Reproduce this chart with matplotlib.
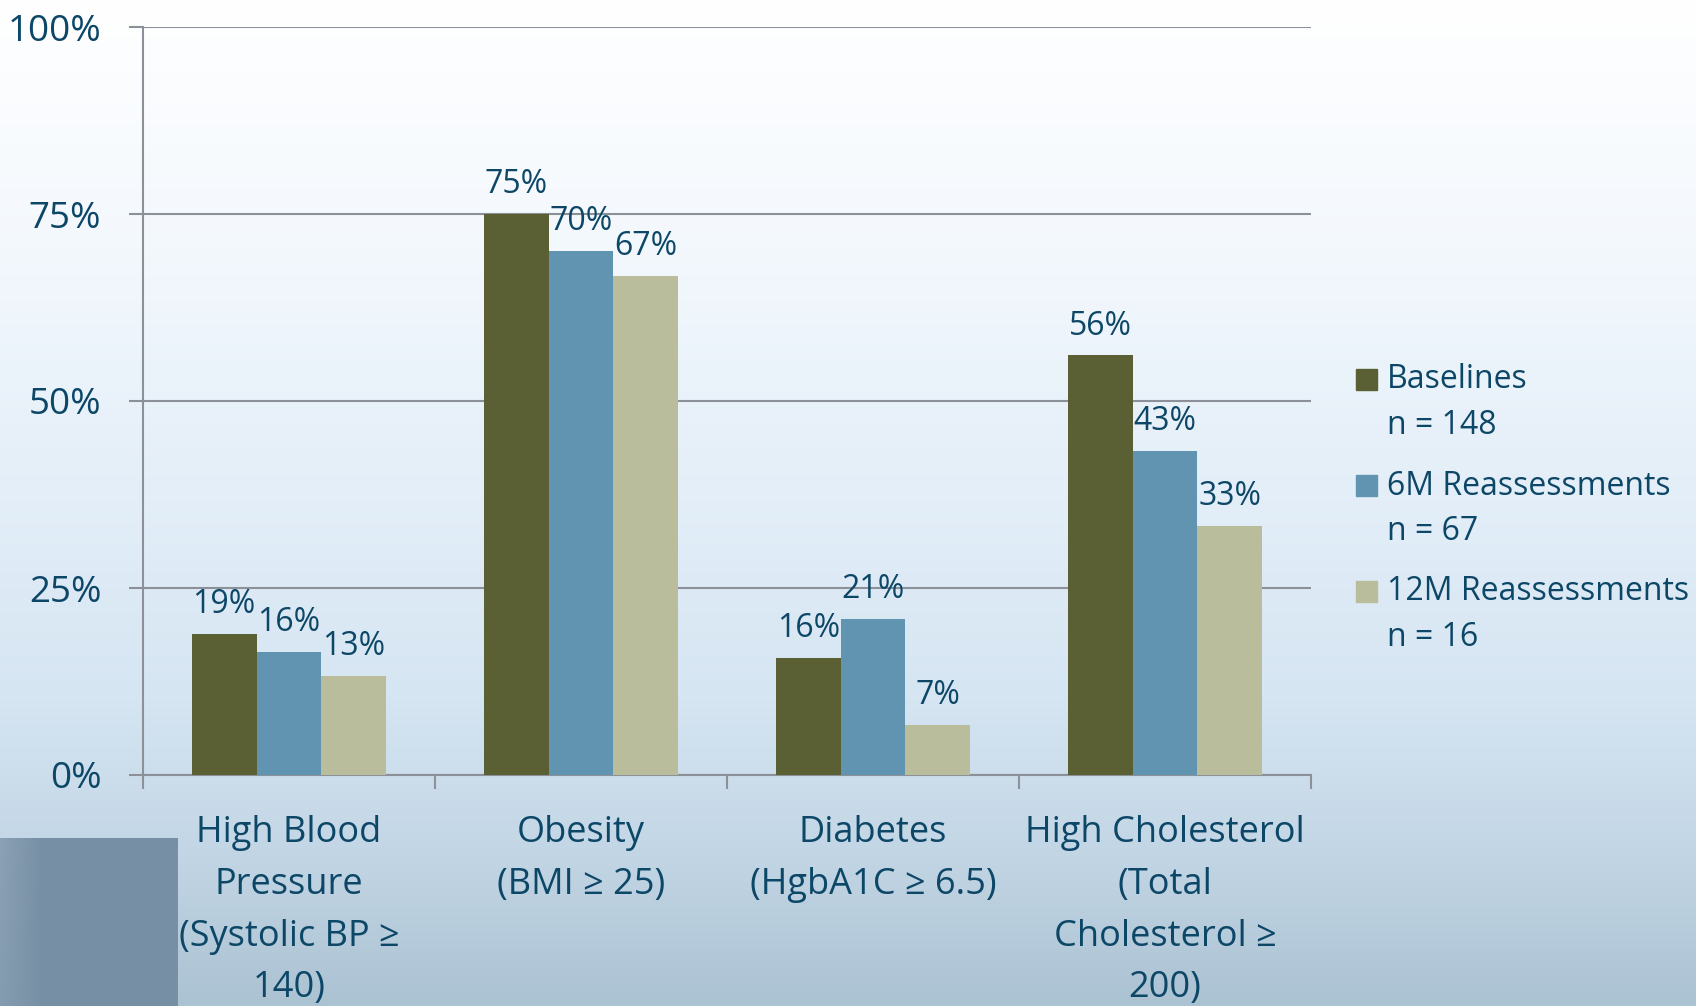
import numpy as np
import matplotlib.pyplot as plt
from matplotlib.colors import to_rgb
from matplotlib.patches import Rectangle

plt.rcParams['font.family'] = ['Open Sans', 'DejaVu Sans']

categories = ['High Blood\nPressure\n(Systolic BP ≥\n140)',
              'Obesity\n(BMI ≥ 25)',
              'Diabetes\n(HgbA1C ≥ 6.5)',
              'High Cholesterol\n(Total\nCholesterol ≥\n200)']
series = ['Baselines\nn = 148', '6M Reassessments\nn = 67', '12M Reassessments\nn = 16']
baseline = [18.9, 75.0, 15.6, 56.1]
six_month = [16.4, 70.1, 20.9, 43.3]
twelve_month = [13.3, 66.7, 6.7, 33.3]
yticks = [0, 25, 50, 75, 100]

colors = ['#5a6033', '#6094b1', '#b9bd9b']
txt = '#0d4767'
W, H = 1696, 1006

fig = plt.figure(figsize=(W / 100, H / 100), dpi=100)

# slide background: vertical gradient plus the grey box bottom-left
ys = [0, 250, 500, 700, 850, 1006]
cs = ['#ffffff', '#f3f8fd', '#e3eef8', '#d5e5f2', '#c3d6e5', '#abc2d2']
rgb = np.array([to_rgb(c) for c in cs])
yy = np.arange(H)
col = np.stack([np.interp(yy, ys, rgb[:, k]) for k in range(3)], axis=1)
bg = np.repeat(col[:, None, :], W, axis=1)
box = np.array(to_rgb('#7890a5'))
fade = np.clip(np.arange(178) / 40.0, 0, 1)[:, None]
bg[838:, :178, :] = bg[838:, :178, :] * (1 - fade) * 0.25 + box * (fade + (1 - fade) * 0.75)
bax = fig.add_axes([0, 0, 1, 1], zorder=-1)
bax.imshow(bg, aspect='auto', extent=[0, 1, 0, 1])
bax.axis('off')

ax = fig.add_axes([143 / W, 1 - 775 / H, (1311 - 143) / W, (775 - 27) / H])
ax.patch.set_alpha(0)

x = np.arange(len(categories))
w = 0.222
for i, vals in enumerate([baseline, six_month, twelve_month]):
    pos = x + (i - 1) * w
    ax.bar(pos, vals, w, color=colors[i], zorder=3)
    for p, v in zip(pos, vals):
        ax.annotate('%d%%' % round(v), (p, v), xytext=(0, 15), textcoords='offset points',
                    ha='center', va='baseline', fontsize=23, color=txt, zorder=4)

ax.set_xlim(-0.5, len(categories) - 0.5)
ax.set_ylim(0, 100)
ax.set_yticks(yticks)
ax.set_yticklabels(['%d%%' % t for t in yticks])
ax.yaxis.grid(True, color='#8c9199', linewidth=1.5, zorder=0)
ax.set_xticks(x)
ax.set_xticklabels(categories, linespacing=1.58)
ax.set_xticks(np.arange(len(categories) + 1) - 0.5, minor=True)
ax.tick_params(axis='x', which='major', length=0, pad=29, labelsize=26, labelcolor=txt)
ax.tick_params(axis='x', which='minor', length=10, width=1.5, color='#8c9199')
ax.tick_params(axis='y', length=10, width=1.5, color='#8c9199', pad=20, labelsize=26.5, labelcolor=txt)
for s in ['top', 'right']:
    ax.spines[s].set_visible(False)
for s in ['left', 'bottom']:
    ax.spines[s].set_color('#8c9199')
    ax.spines[s].set_linewidth(1.5)

# legend
for i, lab in enumerate(series):
    yc = 380 + i * 106
    fig.patches.append(Rectangle((1356 / W, 1 - (yc + 10) / H), 21 / W, 21 / H,
                                 transform=fig.transFigure, color=colors[i]))
    l1, l2 = lab.split('\n')
    fig.text(1387 / W, 1 - yc / H, l1, va='center', ha='left', fontsize=23, color=txt)
    fig.text(1387 / W, 1 - (yc + 45) / H, l2, va='center', ha='left', fontsize=23, color=txt)

fig.savefig('out.png', dpi=100)
